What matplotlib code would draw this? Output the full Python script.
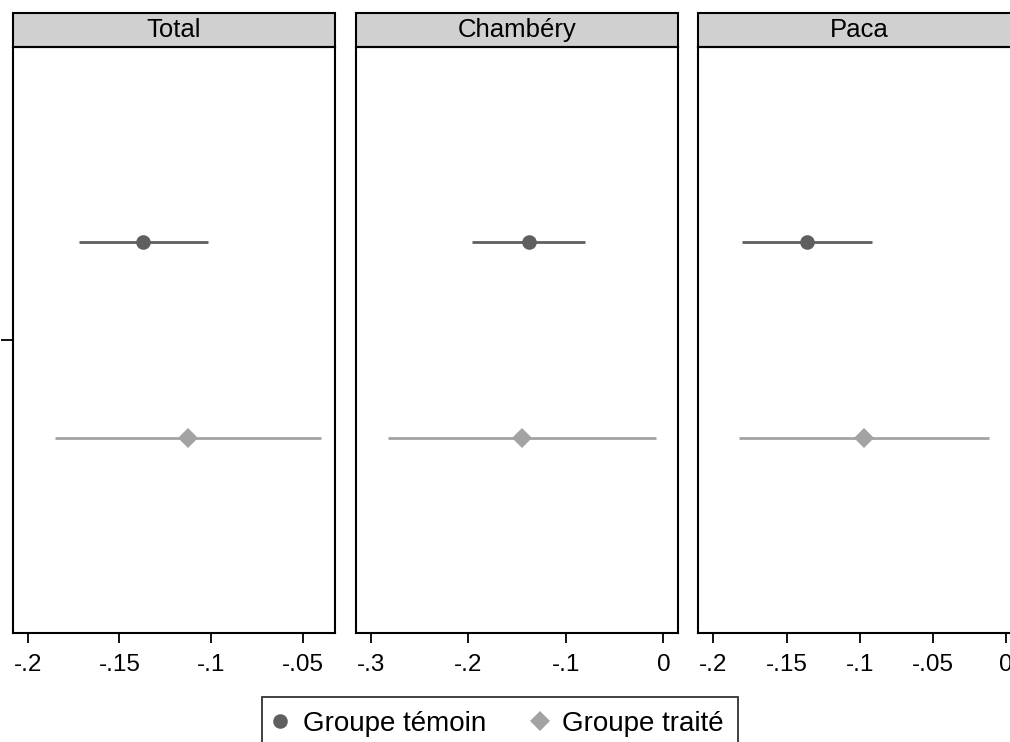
import matplotlib.pyplot as plt
from matplotlib.patches import Rectangle
from matplotlib.lines import Line2D

plt.rcParams['font.family'] = ['Liberation Sans', 'DejaVu Sans']

# panels
panels = ["Total", "Chambéry", "Paca"]
groups = ["Groupe témoin", "Groupe traité"]

# point estimates and confidence bounds, per panel: [témoin, traité]
est = {
    "Total":    [-0.1369, -0.1125],
    "Chambéry": [-0.1380, -0.1448],
    "Paca":     [-0.1359, -0.0974],
}
lo = {
    "Total":    [-0.1720, -0.1851],
    "Chambéry": [-0.1962, -0.2819],
    "Paca":     [-0.1806, -0.1822],
}
hi = {
    "Total":    [-0.1018, -0.0404],
    "Chambéry": [-0.0808, -0.0079],
    "Paca":     [-0.0917, -0.0119],
}

xticks = {
    "Total":    [-0.2, -0.15, -0.1, -0.05],
    "Chambéry": [-0.3, -0.2, -0.1, 0],
    "Paca":     [-0.2, -0.15, -0.1, -0.05, 0],
}
xticklabels = {
    "Total":    ["-.2", "-.15", "-.1", "-.05"],
    "Chambéry": ["-.3", "-.2", "-.1", "0"],
    "Paca":     ["-.2", "-.15", "-.1", "-.05", "0"],
}
xlims = {
    "Total":    (-0.2082, -0.0324),
    "Chambéry": (-0.3151, 0.0154),
    "Paca":     (-0.2103, 0.0100),
}

colors = ["#5f5f5f", "#a3a3a3"]
markers = ["o", "D"]
msizes = [10.5, 10.5]

W, H = 1010, 742
fig = plt.figure(figsize=(W / 100, H / 100), dpi=100)

lefts = [12.7, 356.0, 698.3]
pw = 322.5
top_px, bot_px = 46.7, 633.3
strip_h = 33.4

for k, name in enumerate(panels):
    ax = fig.add_axes([lefts[k] / W, 1 - bot_px / H, pw / W, (bot_px - top_px) / H])
    for g in range(2):
        ax.plot([lo[name][g], hi[name][g]], [g, g], color=colors[g], lw=2, solid_capstyle="butt", zorder=2)
        ax.plot(est[name][g], g, marker=markers[g], color=colors[g], ms=msizes[g], mew=0, ls="none", zorder=3)
    ax.set_xlim(*xlims[name])
    ax.set_ylim(2, -1)
    ax.set_xticks(xticks[name])
    ax.set_xticklabels(xticklabels[name], fontsize=17.5)
    ax.tick_params(axis="x", length=7, width=1.3, direction="out", pad=8, colors="black")
    if k == 0:
        ax.set_yticks([0.5])
        ax.set_yticklabels([""])
        ax.tick_params(axis="y", length=9, width=1.3)
    else:
        ax.set_yticks([])
    for s in ax.spines.values():
        s.set_linewidth(1.5)
        s.set_color("black")
    # strip title
    sh = strip_h / (bot_px - top_px)
    ax.add_patch(Rectangle((0, 1), 1, sh, transform=ax.transAxes, facecolor="#d0d0d0",
                           edgecolor="black", lw=1.5, clip_on=False))
    ax.text(0.5, 1 + sh / 2, name, transform=ax.transAxes, ha="center", va="center", fontsize=18.5)

handles = [Line2D([], [], marker=markers[g], color=colors[g], ls="none", ms=msizes[g], mew=0)
           for g in range(2)]
leg = fig.legend(handles, groups, loc="upper center", bbox_to_anchor=(500 / W, 1 - 697 / H),
                 ncol=2, fontsize=20, frameon=True, fancybox=False, edgecolor="black",
                 handletextpad=0.65, columnspacing=1.8, borderpad=0.5, borderaxespad=0,
                 handlelength=0.3)
leg.get_frame().set_linewidth(1.3)

fig.savefig("out.png", dpi=100)
